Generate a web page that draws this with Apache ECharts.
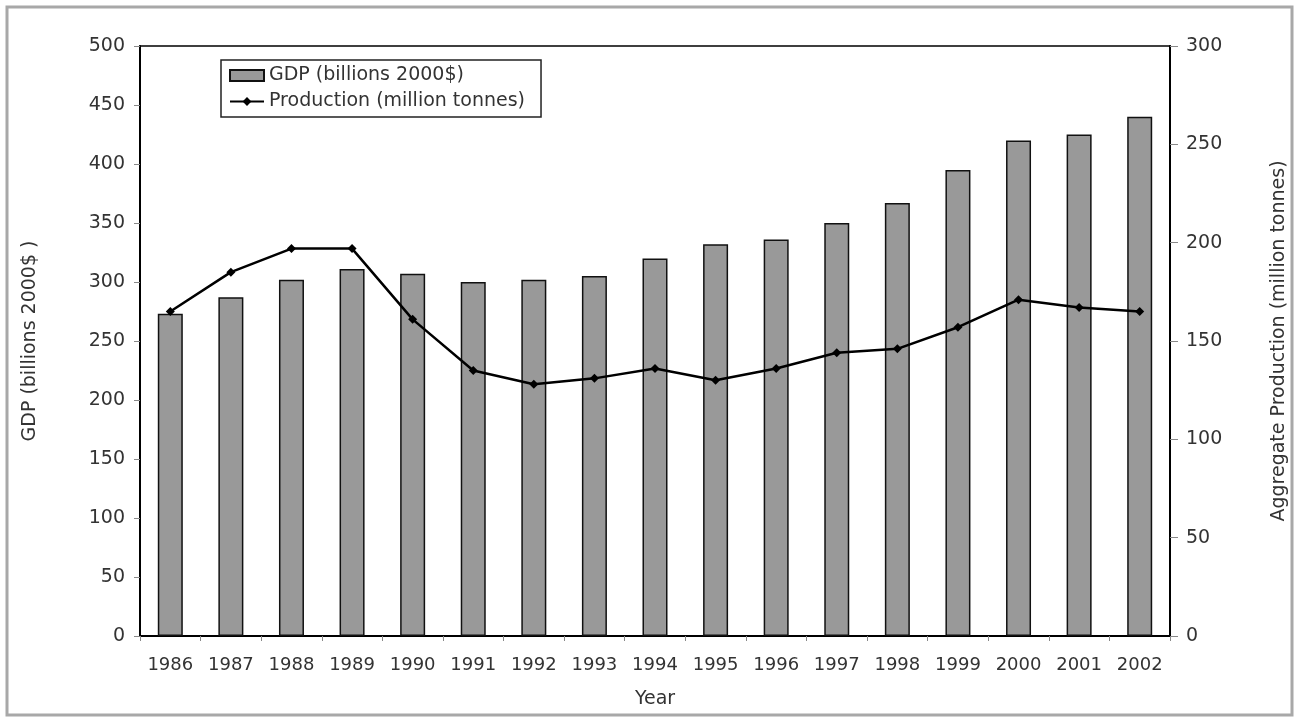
<!DOCTYPE html>
<html lang="en">
<head>
    <meta charset="UTF-8">
    <title>GDP and Production</title>
    <script type="text/javascript" src="https://cdn.jsdelivr.net/npm/echarts@6/dist/echarts.min.js"></script>
    <style>
      html, body {margin: 0; padding: 0; background: #fff;}
    </style>
</head>
<body>
  <div id="chart" style="width: 1299px;height: 722px"></div>
</body>

<script type="text/javascript">

  // 年份
  var years = ['1986','1987','1988','1989','1990','1991','1992','1993','1994',
               '1995','1996','1997','1998','1999','2000','2001','2002'];
  // GDP (billions 2000$)
  var gdp = [273, 287, 302, 311, 307, 300, 302, 305, 320, 332, 336, 350, 367, 395, 420, 425, 440];
  // Production (million tonnes)
  var production = [165, 185, 197, 197, 161, 135, 128, 131, 136, 130, 136, 144, 146, 157, 171, 167, 165];

  var fontName = '"DejaVu Sans", sans-serif';

  var myChart = echarts.init(document.getElementById('chart'));

  var option = {
    backgroundColor: '#fff',
    animation: false,
    textStyle: {fontFamily: fontName},
    graphic: [{
      type: 'rect',
      shape: {x: 7, y: 7, width: 1285, height: 708},
      style: {fill: 'none', stroke: '#a8a8a8', lineWidth: 3}
    }],
    grid: {
      left: 140, right: 129, top: 46, bottom: 86,
      show: true, borderColor: '#000', borderWidth: 1.5,
      backgroundColor: 'transparent'
    },
    legend: {
      orient: 'vertical',
      left: 221, top: 60,
      backgroundColor: '#fff',
      borderColor: '#222', borderWidth: 1.5,
      padding: [6, 16, 6, 8],
      itemGap: 7,
      itemWidth: 34, itemHeight: 11,
      textStyle: {fontSize: 19, color: '#333', fontFamily: fontName},
      data: [
        {name: 'GDP (billions 2000$)', icon: 'rect'},
        {name: 'Production (million tonnes)'}
      ]
    },
    xAxis: {
      type: 'category',
      data: years,
      name: 'Year',
      nameLocation: 'middle',
      nameGap: 54,
      nameTextStyle: {fontSize: 19, color: '#333'},
      axisLine: {lineStyle: {color: '#000', width: 2}},
      axisTick: {show: true, length: 5, lineStyle: {color: '#888'}},
      axisLabel: {fontSize: 18, color: '#333', margin: 20, interval: 0}
    },
    yAxis: [{
      type: 'value',
      min: 0, max: 500, interval: 50,
      name: 'GDP (billions 2000$ )',
      nameLocation: 'middle',
      nameGap: 100,
      nameTextStyle: {fontSize: 19, color: '#333'},
      axisLine: {show: true, lineStyle: {color: '#000', width: 2}},
      axisTick: {show: true, length: 6, lineStyle: {color: '#888'}},
      axisLabel: {fontSize: 19, color: '#333', margin: 15},
      splitLine: {show: false}
    }, {
      type: 'value',
      min: 0, max: 300, interval: 50,
      name: 'Aggregate Production (million tonnes)',
      nameLocation: 'middle',
      nameGap: 100,
      nameRotate: 90,
      nameTextStyle: {fontSize: 19, color: '#333'},
      axisLine: {show: true, lineStyle: {color: '#000', width: 2}},
      axisTick: {show: true, length: 8, lineStyle: {color: '#888'}},
      axisLabel: {fontSize: 19, color: '#333', margin: 16},
      splitLine: {show: false}
    }],
    series: [{
      name: 'GDP (billions 2000$)',
      type: 'bar',
      yAxisIndex: 0,
      data: gdp,
      barWidth: 25,
      itemStyle: {color: '#999999', borderColor: '#111', borderWidth: 1.5}
    }, {
      name: 'Production (million tonnes)',
      type: 'line',
      yAxisIndex: 1,
      data: production,
      symbol: 'diamond',
      symbolSize: 9,
      lineStyle: {color: '#000', width: 2.5},
      itemStyle: {color: '#000'}
    }]
  };

  myChart.setOption(option);

</script>

</html>
